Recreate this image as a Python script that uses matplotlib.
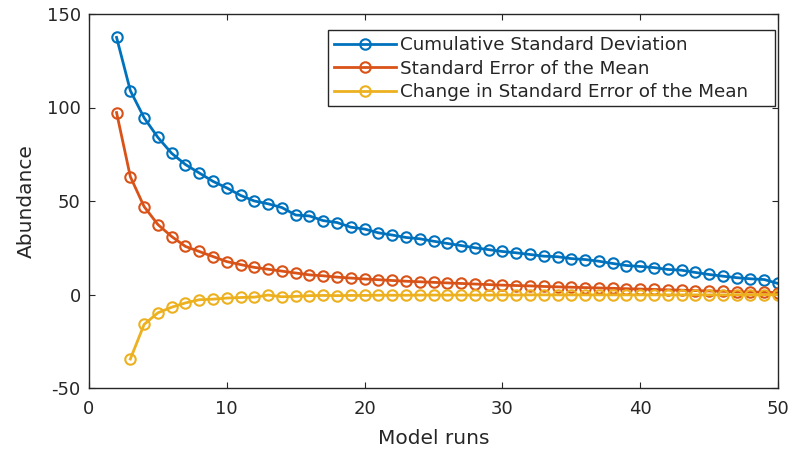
import matplotlib
matplotlib.use("Agg")
import matplotlib.pyplot as plt
from matplotlib.patches import Rectangle

# Number of model runs included in each running statistic
runs = list(range(2, 51))
cum_std = [137.5, 109.0, 94.5, 84.0, 75.5, 69.5, 65.0, 60.5, 57.0, 53.0,
           50.0, 48.5, 46.5, 42.5, 42.0, 39.5, 38.5, 36.0, 35.0, 33.0,
           31.8, 30.5, 29.8, 28.5, 27.3, 26.2, 25.0, 24.0, 23.0, 22.3,
           21.4, 20.5, 20.2, 19.2, 18.7, 17.8, 16.6, 15.5, 15.0, 14.4,
           13.4, 13.0, 11.8, 10.7, 9.8, 9.0, 8.4, 8.0, 5.9]
sem = [97.3, 63.0, 47.0, 37.4, 31.0, 25.7, 23.0, 20.3, 17.6, 16.0,
       14.5, 13.5, 12.5, 11.5, 10.5, 10.0, 9.3, 8.8, 8.3, 7.9,
       7.5, 7.1, 6.8, 6.5, 6.2, 5.9, 5.6, 5.3, 5.0, 4.8,
       4.6, 4.3, 4.1, 3.9, 3.7, 3.5, 3.3, 3.1, 2.9, 2.7,
       2.5, 2.3, 2.1, 1.9, 1.7, 1.5, 1.3, 1.2, 1.0]
change_runs = list(range(3, 51))
sem_change = [-34.5, -16.0, -9.8, -6.8, -4.5, -2.8, -2.5, -1.9, -1.6, -1.4,
              -0.3, -1.2, -1.0, -0.6, -0.5, -0.6, -0.5, -0.5, -0.4, -0.4,
              -0.4, -0.3, -0.3, -0.3, -0.3, -0.3, -0.3, -0.2, -0.3, -0.2,
              -0.2, -0.2, -0.2, -0.2, -0.2, -0.2, -0.2, -0.2, -0.2, -0.2,
              -0.2, -0.2, -0.2, -0.2, -0.1, -0.2, -0.1, -0.1]

labels = ["Cumulative Standard Deviation",
          "Standard Error of the Mean",
          "Change in Standard Error of the Mean"]
colors = ["#0072BD", "#D95319", "#EDB120"]
ink = "#262626"

plt.rcParams["font.family"] = "DejaVu Sans"
plt.rcParams["axes.unicode_minus"] = False

W, H = 791, 458
fig = plt.figure(figsize=(W / 100, H / 100), dpi=100)
ax = fig.add_axes([89 / W, 1 - 388 / H, (778 - 89) / W, (388 - 14) / H])

style = dict(linewidth=2.0, marker="o", markersize=7.5,
             markerfacecolor="none", markeredgewidth=1.5)
ax.plot(runs, cum_std, color=colors[0], label=labels[0], **style)
ax.plot(runs, sem, color=colors[1], label=labels[1], **style)
ax.plot(change_runs, sem_change, color=colors[2], label=labels[2], **style)

ax.set_xlim(0, 50)
ax.set_ylim(-50, 150)
ax.set_xticks([0, 10, 20, 30, 40, 50])
ax.set_yticks([-50, 0, 50, 100, 150])

ax.tick_params(direction="in", top=True, right=True, length=4, width=0.8,
               color=ink, labelcolor=ink, labelsize=13)
ax.tick_params(axis="x", pad=8.5)
ax.tick_params(axis="y", pad=6)
for sp in ax.spines.values():
    sp.set_color(ink)
    sp.set_linewidth(1.0)

ax.set_xlabel("Model runs", fontsize=14.5, color=ink, labelpad=8)
ax.set_ylabel("Abundance", fontsize=14.5, color=ink, labelpad=8)

# Legend box (drawn separately so it can be wider than its contents)
box_l, box_r, box_t, box_b = 328, 775, 30, 106
ax.add_patch(Rectangle((box_l / W, 1 - box_b / H), (box_r - box_l) / W,
                       (box_b - box_t) / H, transform=fig.transFigure,
                       facecolor="white", edgecolor=ink, linewidth=1.0,
                       clip_on=False, zorder=4))
leg = ax.legend(loc="upper left", bbox_to_anchor=(box_l / W, 1 - box_t / H),
                bbox_transform=fig.transFigure, borderaxespad=0,
                fontsize=13.2, handlelength=3.4, handletextpad=0.2,
                labelspacing=0.3, borderpad=0.33, frameon=False)
leg.set_zorder(5)
for t in leg.get_texts():
    t.set_color(ink)

fig.savefig("out.png", dpi=100)
